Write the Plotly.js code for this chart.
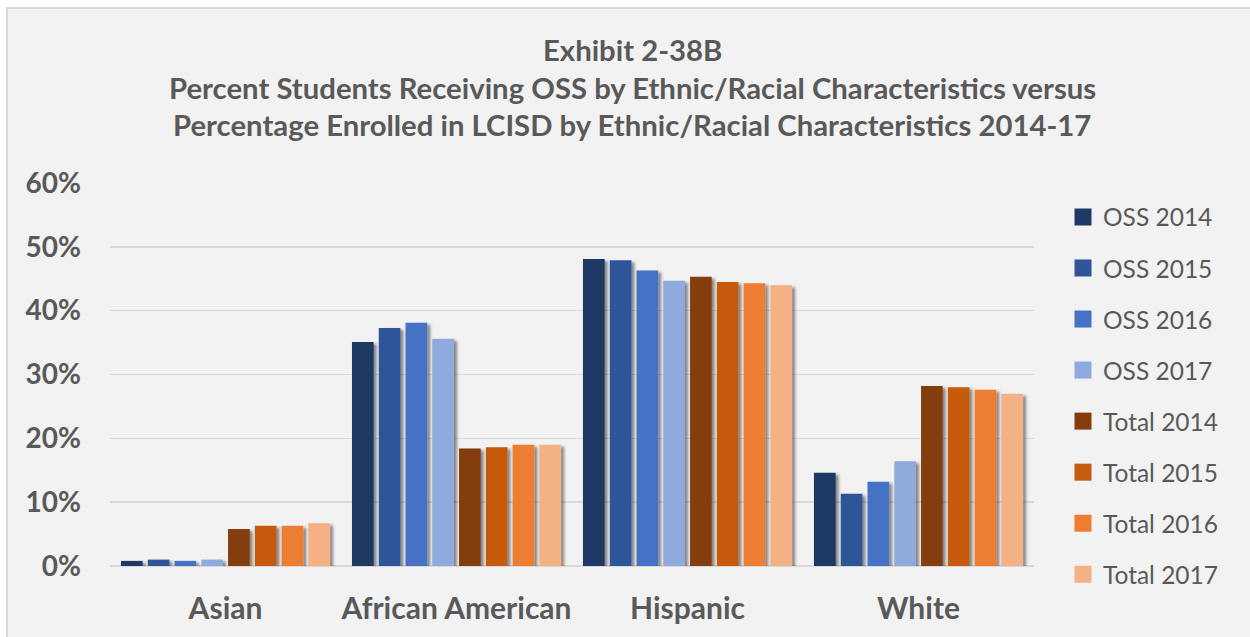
<!DOCTYPE html>
<html>
<head>
<meta charset="utf-8">
<script src="https://cdn.plot.ly/plotly-3.0.1.min.js"></script>
<style>
  html, body { margin: 0; padding: 0; background: #ffffff; }
  #chart { width: 1250px; height: 637px; }
</style>
</head>
<body>
<div id="chart"></div>
<script>
// Ethnic/racial groups on the x axis
const categories = ["Asian", "African American", "Hispanic", "White"];

// Share of students receiving OSS, by year (fractions)
const oss2014 = [0.008, 0.351, 0.481, 0.146];
const oss2015 = [0.010, 0.373, 0.479, 0.113];
const oss2016 = [0.008, 0.381, 0.463, 0.132];
const oss2017 = [0.010, 0.356, 0.447, 0.164];

// Share of total LCISD enrollment, by year (fractions)
const total2014 = [0.058, 0.184, 0.453, 0.282];
const total2015 = [0.063, 0.186, 0.445, 0.280];
const total2016 = [0.063, 0.190, 0.443, 0.276];
const total2017 = [0.067, 0.190, 0.440, 0.270];

const seriesNames = ["OSS 2014", "OSS 2015", "OSS 2016", "OSS 2017",
                     "Total 2014", "Total 2015", "Total 2016", "Total 2017"];
const seriesValues = [oss2014, oss2015, oss2016, oss2017,
                      total2014, total2015, total2016, total2017];
const seriesColors = ["#1F3864", "#2F5597", "#4472C4", "#8FAADC",
                      "#843C0C", "#C55A11", "#ED7D31", "#F4B183"];

const yTickVals = [0, 0.1, 0.2, 0.3, 0.4, 0.5, 0.6];
const yTickText = ["0%", "10%", "20%", "30%", "40%", "50%", "60%"];

const titleLines = [
  "Exhibit 2-38B",
  "Percent Students Receiving OSS by Ethnic/Racial Characteristics versus",
  "Percentage Enrolled in LCISD by Ethnic/Racial Characteristics 2014-17"
];

const textColor = "#595959";
const fontFamily = "Lato, 'Open Sans', sans-serif";

const traces = seriesNames.map((name, i) => ({
  type: "bar",
  name: name,
  x: categories,
  y: seriesValues[i],
  legendgroup: "g" + i,
  marker: { color: seriesColors[i] },
  hoverinfo: "skip"
}));

// plot area in pixels: x 110..1034, y 183..566
const plotL = 110, plotR = 1034, plotT = 183, plotB = 566;
const plotW = plotR - plotL, plotH = plotB - plotT;

const titleY = [49, 87, 124];
const annotations = titleLines.map((t, i) => ({
  text: t,
  xref: "paper", yref: "paper",
  x: (632 - plotL) / plotW,
  y: (plotB - titleY[i]) / plotH,
  yanchor: "middle", xanchor: "center",
  showarrow: false,
  font: { family: fontFamily, size: 29.3, color: textColor, weight: 700 }
}));

const layout = {
  width: 1250,
  height: 637,
  margin: { l: plotL, r: 1250 - plotR, t: plotT, b: 637 - plotB, pad: 0 },
  paper_bgcolor: "#ffffff",
  plot_bgcolor: "rgba(0,0,0,0)",
  showlegend: true,
  barmode: "group",
  bargap: 0.073,
  bargroupgap: 0.19,
  font: { family: fontFamily, color: textColor },
  xaxis: {
    type: "category",
    showgrid: false,
    showline: false,
    zeroline: false,
    ticks: "",
    ticklabelstandoff: 22,
    tickfont: { family: fontFamily, size: 30, color: textColor, weight: 700 }
  },
  yaxis: {
    range: [0, 0.6],
    autorange: false,
    tickvals: yTickVals,
    ticktext: yTickText,
    showgrid: true,
    gridcolor: "#D9D9D9",
    gridwidth: 1.5,
    zeroline: true,
    zerolinecolor: "#D9D9D9",
    zerolinewidth: 1.5,
    showline: false,
    ticks: "",
    ticklabelstandoff: 28,
    tickfont: { family: fontFamily, size: 28, color: textColor, weight: 700 }
  },
  legend: {
    x: 1063 / 1250,
    xref: "container",
    y: 1 - 194.5 / 637,
    yref: "container",
    xanchor: "left",
    yanchor: "top",
    bgcolor: "rgba(0,0,0,0)",
    tracegroupgap: 16.2,
    maxheight: 620,
    font: { family: fontFamily, size: 24.5, color: textColor },
    itemwidth: 30
  },
  annotations: annotations,
  shapes: [{
    type: "rect",
    xref: "paper", yref: "paper",
    x0: (7 - plotL) / plotW, x1: (1252 - plotL) / plotW,
    y0: -(637 - plotB + 5) / plotH, y1: (plotB - 8) / plotH,
    fillcolor: "#F2F2F2",
    line: { color: "#D9D9D9", width: 2 },
    layer: "below"
  }]
};

const SVG_NS = "http://www.w3.org/2000/svg";

Plotly.newPlot("chart", traces, layout, { displayModeBar: false, staticPlot: true })
  .then(gd => {
    // SVG drop-shadow filter for the bars (offset to the lower right)
    const svg = gd.querySelector("svg.main-svg");
    let defs = svg.querySelector("defs");
    if (!defs) { defs = document.createElementNS(SVG_NS, "defs"); svg.prepend(defs); }
    const filter = document.createElementNS(SVG_NS, "filter");
    filter.setAttribute("id", "barShadow");
    filter.setAttribute("x", "-20%");
    filter.setAttribute("y", "-5%");
    filter.setAttribute("width", "160%");
    filter.setAttribute("height", "120%");
    const shadow = document.createElementNS(SVG_NS, "feDropShadow");
    shadow.setAttribute("dx", "3");
    shadow.setAttribute("dy", "2");
    shadow.setAttribute("stdDeviation", "1.6");
    shadow.setAttribute("flood-color", "#000000");
    shadow.setAttribute("flood-opacity", "0.45");
    filter.appendChild(shadow);
    defs.appendChild(filter);
    gd.querySelectorAll(".barlayer .point path").forEach(p => {
      p.setAttribute("filter", "url(#barShadow)");
    });
    // larger square swatches in the legend
    gd.querySelectorAll(".legend .legendpoints path.legendundefined").forEach(p => {
      p.setAttribute("d", "M8.5,8.5H-8.5V-8.5H8.5Z");
    });
  });
</script>
</body>
</html>
